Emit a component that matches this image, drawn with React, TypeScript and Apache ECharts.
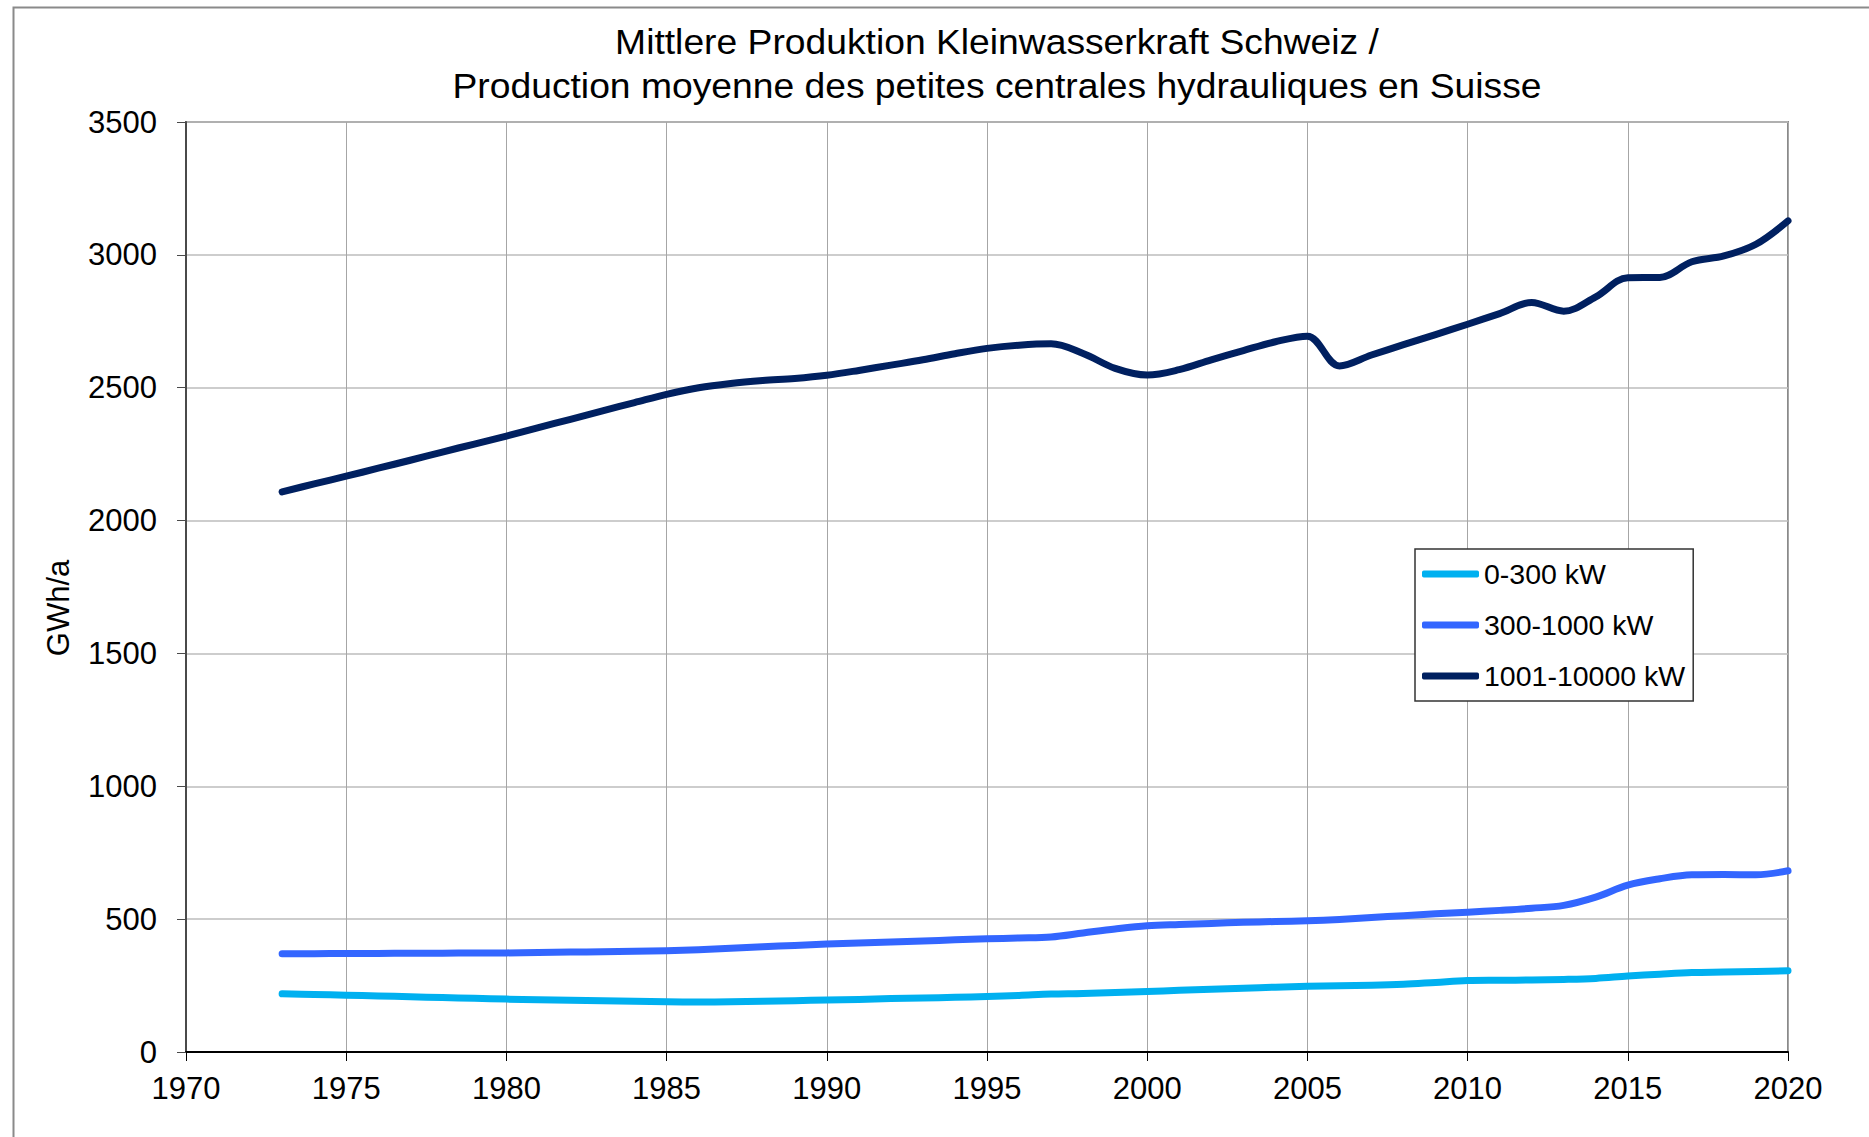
import React, { useEffect, useRef } from "react";
import * as echarts from "echarts";

const years = [
  1973, 1974, 1975, 1976, 1977, 1978, 1979, 1980, 1981, 1982, 1983, 1984, 1985, 1986, 1987, 1988,
  1989, 1990, 1991, 1992, 1993, 1994, 1995, 1996, 1997, 1998, 1999, 2000, 2001, 2002, 2003, 2004,
  2005, 2006, 2007, 2008, 2009, 2010, 2011, 2012, 2013, 2014, 2015, 2016, 2017, 2018, 2019, 2020,
];

const small = [
  219, 216, 214, 211, 208, 205, 202, 199, 197, 195, 193, 191, 189, 188, 189, 191,
  193, 196, 198, 201, 203, 206, 209, 213, 218, 220, 224, 228, 232, 236, 240, 244,
  247, 249, 251, 255, 262, 269, 270, 271, 273, 277, 286, 293, 299, 301, 303, 306,
];

const medium = [
  370, 370, 371, 371, 372, 372, 373, 373, 374, 376, 377, 379, 381, 385, 390, 396,
  401, 406, 410, 414, 418, 422, 426, 429, 433, 448, 463, 475, 480, 484, 488, 491,
  494, 499, 506, 513, 520, 526, 533, 541, 552, 583, 628, 652, 667, 668, 667, 682,
];

const large = [
  2108, 2138, 2167, 2197, 2227, 2258, 2288, 2318, 2350, 2381, 2413, 2444, 2475, 2500, 2516, 2527,
  2535, 2547, 2565, 2585, 2605, 2628, 2648, 2660, 2665, 2629, 2573, 2548, 2568, 2605, 2640, 2673,
  2694, 2582, 2623, 2662, 2700, 2739, 2779, 2821, 2788, 2842, 2914, 2915, 2974, 2996, 3040, 3128,
];

const seriesNames = ["0-300 kW", "300-1000 kW", "1001-10000 kW"];
const seriesColors = ["#00B0F0", "#3366FF", "#002060"];
const titleLines = [
  "Mittlere Produktion Kleinwasserkraft Schweiz /",
  "Production moyenne des petites centrales hydrauliques en Suisse",
];
const yAxisTitle = "GWh/a";

const FONT = "'Liberation Sans', Arial, Helvetica, sans-serif";

export default function App() {
  const ref = useRef<HTMLDivElement>(null);

  useEffect(() => {
    document.body.style.margin = "0";
    if (!ref.current) return;
    const chart = echarts.init(ref.current, null, { renderer: "svg" });
    const dataSets = [small, medium, large];

    const option = {
      animation: false,
      backgroundColor: "#ffffff",
      textStyle: { fontFamily: FONT },
      grid: {
        left: 186,
        right: 81,
        top: 122,
        bottom: 85,
        show: true,
        borderColor: "#8a8a8a",
        borderWidth: 2,
        containLabel: false,
      },
      legend: {
        orient: "vertical",
        left: 1415,
        top: 549,
        padding: [10, 8, 10, 7],
        itemGap: 21,
        itemWidth: 57,
        itemHeight: 7,
        icon: "roundRect",
        backgroundColor: "#ffffff",
        borderColor: "#333333",
        borderWidth: 1.5,
        borderRadius: 0,
        textStyle: { fontSize: 28.5, color: "#000", fontFamily: FONT, lineHeight: 30 },
        data: seriesNames,
      },
      xAxis: {
        type: "value",
        min: 1970,
        max: 2020,
        interval: 5,
        axisLine: { show: true, onZero: false, lineStyle: { color: "#000000", width: 2 } },
        axisTick: { show: true, length: 9, lineStyle: { color: "#000000", width: 1 } },
        axisLabel: {
          fontSize: 31,
          color: "#000",
          margin: 21,
          fontFamily: FONT,
          formatter: (v: number) => String(v),
        },
        splitLine: { show: true, lineStyle: { color: "#a6a6a6", width: 1 } },
      },
      yAxis: {
        type: "value",
        min: 0,
        max: 3500,
        interval: 500,
        axisLine: { show: true, lineStyle: { color: "#4a4a4a", width: 2 } },
        axisTick: { show: true, length: 9, lineStyle: { color: "#4a4a4a", width: 1 } },
        axisLabel: {
          fontSize: 31,
          color: "#000",
          margin: 29,
          fontFamily: FONT,
          formatter: (v: number) => String(v),
        },
        splitLine: { show: true, lineStyle: { color: "#bdbdbd", width: 1.5 } },
      },
      series: seriesNames.map((name, i) => ({
        name,
        type: "line",
        smooth: 0.35,
        showSymbol: false,
        symbol: "none",
        color: seriesColors[i],
        lineStyle: { width: 7, color: seriesColors[i], cap: "round", join: "round" },
        data: years.map((y, k) => [y, dataSets[i][k]]),
        z: 3 + i,
      })),
      graphic: [
        {
          type: "rect",
          left: 11,
          top: 5,
          shape: { x: 0, y: 0, width: 1900, height: 1200 },
          style: { fill: "none", stroke: "#8a8a8a", lineWidth: 2 },
          silent: true,
          z: -10,
        },
        {
          type: "text",
          x: 997,
          y: 42,
          scaleX: 1.08,
          style: {
            text: titleLines[0],
            fontSize: 34.5,
            fontFamily: FONT,
            fill: "#000",
            textAlign: "center",
            textVerticalAlign: "middle",
          },
        },
        {
          type: "text",
          x: 997,
          y: 86,
          scaleX: 1.08,
          style: {
            text: titleLines[1],
            fontSize: 34.5,
            fontFamily: FONT,
            fill: "#000",
            textAlign: "center",
            textVerticalAlign: "middle",
          },
        },
        {
          type: "text",
          x: 58,
          y: 608,
          rotation: Math.PI / 2,
          style: {
            text: yAxisTitle,
            fontSize: 31,
            fontFamily: FONT,
            fill: "#000",
            textAlign: "center",
            textVerticalAlign: "middle",
          },
        },
      ],
    };

    chart.setOption(option as any);
    return () => chart.dispose();
  }, []);

  return <div ref={ref} style={{ width: 1869, height: 1137 }} />;
}
